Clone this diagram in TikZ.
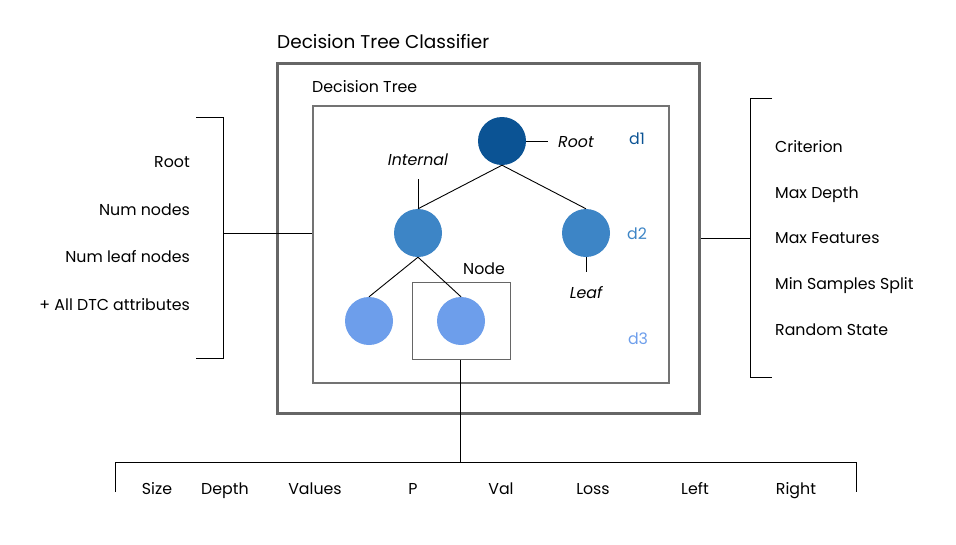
\documentclass[tikz,border=0pt]{standalone}
\usepackage{fontspec}
\setmainfont{Poppins}
\begin{document}
\begin{tikzpicture}[x=1pt,y=-1pt,
  lbl/.style={inner sep=0pt,yshift=-3pt,font=\fontsize{15.8}{18}\selectfont},
  ilbl/.style={inner sep=0pt,yshift=-3pt,font=\fontsize{15.8}{18}\selectfont\itshape},
  circ/.style={circle,minimum size=48pt,inner sep=0pt},
  ln/.style={draw=black,line width=0.9pt}]
\definecolor{c1}{HTML}{0B5394}
\definecolor{c2}{HTML}{3D85C6}
\definecolor{c3}{HTML}{6D9EEB}
\useasboundingbox (0,0) rectangle (956,544);
% boxes
\node[draw=black!60,line width=3pt,minimum width=422pt,minimum height=350pt,inner sep=0pt,anchor=north west] (outer) at (276,62) {};
\node[draw=black!55,line width=2pt,minimum width=356pt,minimum height=277pt,inner sep=0pt,anchor=north west] (inner) at (312,105) {};
\node[anchor=mid west,inner sep=0pt,yshift=-3pt,font=\fontsize{18.5}{21}\selectfont] (title) at (277,43) {Decision Tree Classifier};
\node[anchor=mid west,lbl] (dtl) at (312,87) {Decision Tree};
% circles
\node[circ,fill=c1] (root) at (502,141) {};
\node[circ,fill=c2] (int) at (418,233) {};
\node[circ,fill=c2] (leaf) at (586,233) {};
\node[circ,fill=c3] (l1) at (369,321) {};
\node[circ,fill=c3] (l2) at (461,321) {};
\node[draw=black!60,line width=0.8pt,minimum width=98pt,minimum height=77pt,inner sep=0pt,anchor=north west] (nodebox) at (411.5,282) {};
\node[lbl,anchor=mid] (nodelbl) at (484,269) {Node};
% edges
\draw[ln] (root.south) -- (int.north);
\draw[ln] (root.south) -- (leaf.north);
\draw[ln] (int.south) -- (l1.north);
\draw[ln] (int.south) -- (l2.north);
% labels
\coordinate (rootend) at (548,141);
\draw[ln] (root.east) -- (rootend);
\node[ilbl,anchor=mid west] (rootlbl) at (558,142) {Root};
\node[ilbl,anchor=mid] (intlbl) at (418,160) {Internal};
\coordinate (intend) at (418,179);
\draw[ln] (int.north) -- (intend);
\coordinate (leafend) at (586,272);
\draw[ln] (leaf.south) -- (leafend);
\node[ilbl,anchor=mid] (leaflbl) at (586,293) {Leaf};
\node[lbl,anchor=mid,text=c1] (d1) at (637,139) {d1};
\node[lbl,anchor=mid,text=c2] (d2) at (637,234) {d2};
\node[lbl,anchor=mid,text=c3] (d3) at (638,339) {d3};
% left bracket
\coordinate (lbt) at (196,117);
\coordinate (lbtv) at (223,117);
\coordinate (lbbv) at (223,358);
\coordinate (lbb) at (196,358);
\coordinate (lbm) at (223,233);
\draw[ln] (lbt) -- (lbtv) -- (lbbv) -- (lbb);
\draw[ln] (lbm) -- (inner.west |- lbm);
\node[lbl,anchor=mid east] (a1) at (190,162) {Root};
\node[lbl,anchor=mid east] (a2) at (190,210) {Num nodes};
\node[lbl,anchor=mid east] (a3) at (190,257) {Num leaf nodes};
\node[lbl,anchor=mid east] (a4) at (190,305) {+ All DTC attributes};
% right bracket
\coordinate (rbt) at (772,98);
\coordinate (rbtv) at (750,98);
\coordinate (rbbv) at (750,377);
\coordinate (rbb) at (772,377);
\coordinate (rbm) at (750,238);
\draw[ln] (rbt) -- (rbtv) -- (rbbv) -- (rbb);
\draw[ln] (outer.east |- rbm) -- (rbm);
\node[lbl,anchor=mid west] (b1) at (775,147) {Criterion};
\node[lbl,anchor=mid west] (b2) at (775,193) {Max Depth};
\node[lbl,anchor=mid west] (b3) at (775,238) {Max Features};
\node[lbl,anchor=mid west] (b4) at (775,284) {Min Samples Split};
\node[lbl,anchor=mid west] (b5) at (775,330) {Random State};
% bottom bracket
\coordinate (bm) at (461,462);
\coordinate (bl) at (115,462);
\coordinate (br) at (856,462);
\coordinate (bld) at (115,492);
\coordinate (brd) at (856,492);
\draw[ln] (nodebox.south) -- (nodebox.south |- bm);
\draw[ln] (bld) -- (bl) -- (br) -- (brd);
\node[lbl,anchor=mid] (c1n) at (157,489) {Size};
\node[lbl,anchor=mid] (c2n) at (225,489) {Depth};
\node[lbl,anchor=mid] (c3n) at (315,489) {Values};
\node[lbl,anchor=mid] (c4n) at (413,489) {P};
\node[lbl,anchor=mid] (c5n) at (501,489) {Val};
\node[lbl,anchor=mid] (c6n) at (593,489) {Loss};
\node[lbl,anchor=mid] (c7n) at (695,489) {Left};
\node[lbl,anchor=mid] (c8n) at (796,489) {Right};
\end{tikzpicture}
\end{document}
